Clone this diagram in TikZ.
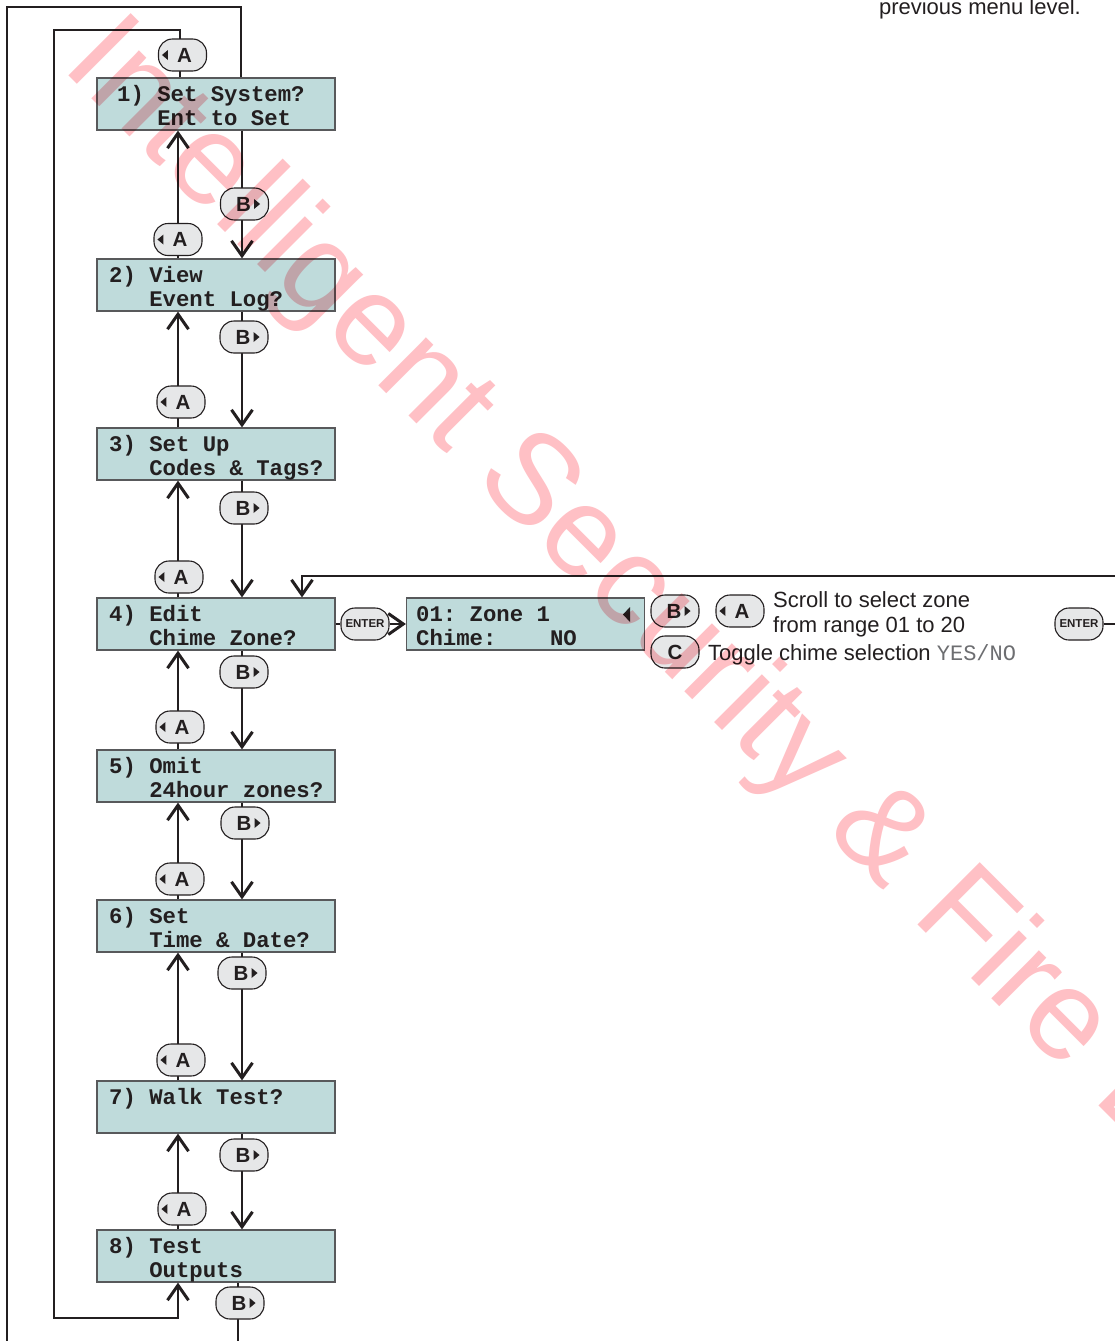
\documentclass[tikz,border=0pt]{standalone}
\usepackage{fontspec}
\setmainfont{Liberation Sans}
\setmonofont{Liberation Mono}
\usetikzlibrary{arrows.meta}
\definecolor{ink}{HTML}{231F20}
\definecolor{lcdfill}{HTML}{BFDBDB}
\definecolor{lcdedge}{HTML}{58595B}
\definecolor{btnfill}{HTML}{E6E7E8}
\definecolor{wmark}{RGB}{255,192,197}
\definecolor{yesno}{HTML}{6D6E71}
\frenchspacing
\begin{document}
\begin{tikzpicture}[x=1pt,y=-1pt,
 lcd/.style={draw=lcdedge, line width=1.2pt, fill=lcdfill, minimum width=238pt, minimum height=52pt, inner sep=0pt},
 lcdtext/.style={font=\fontsize{22.3}{24}\selectfont\ttfamily\bfseries, text=ink, inner sep=0pt, anchor=base west},
 btn/.style={draw=ink, line width=1.1pt, fill=btnfill, rounded corners=14pt, minimum width=48pt, minimum height=32pt, inner sep=0pt, font=\fontsize{20.5}{22}\selectfont\bfseries, text=ink},
 enterbtn/.style={btn, font=\fontsize{11.5}{12}\selectfont\bfseries},
 conn/.style={draw=ink, line width=2pt, line join=miter},
 arr/.style={conn, -{Straight Barb[length=15pt,width=21pt,line width=3pt]}},
 note/.style={font=\fontsize{22}{25}\selectfont, text=ink, inner sep=0pt, anchor=base west},
 wm/.style={font=\fontsize{128}{128}\selectfont, text=wmark, rotate=-45, anchor=base west, inner sep=0pt},
]
\useasboundingbox (0,0) rectangle (1115,1341);
\fill[white] (0,0) rectangle (1115,1341);

% LCD boxes
\node[lcd] (b1) at (216,104) {};
\node[lcd] (b2) at (216,285) {};
\node[lcd] (b3) at (216,454) {};
\node[lcd] (b4) at (216,624) {};
\node[lcd] (b5) at (216,776) {};
\node[lcd] (b6) at (216,926) {};
\node[lcd] (b7) at (216,1107) {};
\node[lcd] (b8) at (216,1256) {};
\node[lcd, minimum width=238pt] (z) at (525.5,624) {};

% LCD texts
\node[lcdtext] (t1a) at (117,101) {1)~Set~System?};
\node[lcdtext] (t1b) at (157.1,125.5) {Ent~to~Set};
\node[lcdtext] (t2a) at (109,282) {2)~View};
\node[lcdtext] (t2b) at (149.1,306.5) {Event~Log?};
\node[lcdtext] (t3a) at (109,451) {3)~Set~Up};
\node[lcdtext] (t3b) at (149.1,475.5) {Codes~\&~Tags?};
\node[lcdtext] (t4a) at (109,621) {4)~Edit};
\node[lcdtext] (t4b) at (149.1,645.5) {Chime~Zone?};
\node[lcdtext] (t5a) at (109,773) {5)~Omit};
\node[lcdtext] (t5b) at (149.1,797.5) {24hour~zones?};
\node[lcdtext] (t6a) at (109,923) {6)~Set};
\node[lcdtext] (t6b) at (149.1,947.5) {Time~\&~Date?};
\node[lcdtext] (t7a) at (109,1104) {7)~Walk~Test?};
\node[lcdtext] (t8a) at (109,1253) {8)~Test};
\node[lcdtext] (t8b) at (149.1,1277.5) {Outputs};
\node[lcdtext] (tza) at (416,621) {01:~Zone~1};
\node[lcdtext] (tzb) at (416,645.5) {Chime:~~~~NO};
\fill[ink] (623,614.5) -- (630,607) -- (630,622) -- cycle;

% helper coordinates
\coordinate (ux) at (178,0);
\coordinate (dx) at (242,0);
\coordinate (itop) at (180,30);
\coordinate (ileft) at (54,30);
\coordinate (ibl) at (54,1318);
\coordinate (ibr) at (178,1318);
\coordinate (otop) at (241,7);
\coordinate (oleft) at (7,7);
\coordinate (obl) at (7,1341);
\coordinate (bexit) at (238,1341);
\coordinate (fbx) at (302,576);
\coordinate (fbr) at (1115,576);
\coordinate (entr) at (1115,624);

% up connectors
\draw[arr] (b2.north -| ux) -- (b1.south -| ux);
\draw[arr] (b3.north -| ux) -- (b2.south -| ux);
\draw[arr] (b4.north -| ux) -- (b3.south -| ux);
\draw[arr] (b5.north -| ux) -- (b4.south -| ux);
\draw[arr] (b6.north -| ux) -- (b5.south -| ux);
\draw[arr] (b7.north -| ux) -- (b6.south -| ux);
\draw[arr] (b8.north -| ux) -- (b7.south -| ux);
% down connectors
\draw[arr] (b1.south -| dx) -- (b2.north -| dx);
\draw[arr] (b2.south -| dx) -- (b3.north -| dx);
\draw[arr] (b3.south -| dx) -- (b4.north -| dx);
\draw[arr] (b4.south -| dx) -- (b5.north -| dx);
\draw[arr] (b5.south -| dx) -- (b6.north -| dx);
\draw[arr] (b6.south -| dx) -- (b7.north -| dx);
\draw[arr] (b7.south -| dx) -- (b8.north -| dx);
\draw[conn] (b8.south -| bexit) -- (bexit);
% loops
\draw[arr] (b1.north -| itop) -- (itop) -- (ileft) -- (ibl) -- (ibr) -- (b8.south -| ibr);
\draw[conn] (b1.north -| otop) -- (otop) -- (oleft) -- (obl);
% feedback to 4
\draw[arr] (fbr) -- (fbx) -- (b4.north -| fbx);

% buttons A
\node[btn] (a1) at (182.5,55) {\hspace*{4pt}A};
\node[btn] (a2) at (178,239.5) {\hspace*{4pt}A};
\node[btn] (a3) at (181,402) {\hspace*{4pt}A};
\node[btn] (a4) at (179,577) {\hspace*{4pt}A};
\node[btn] (a5) at (180,727) {\hspace*{4pt}A};
\node[btn] (a6) at (180,879) {\hspace*{4pt}A};
\node[btn] (a7) at (181,1060) {\hspace*{4pt}A};
\node[btn] (a8) at (182,1209) {\hspace*{4pt}A};
\node[btn] (ra) at (740,611) {\hspace*{4pt}A};
\foreach \n in {a1,a2,a3,a4,a5,a6,a7,a8,ra}
  \fill[ink] ([xshift=4pt]\n.west) -- ++(6,-5) -- ++(0,10) -- cycle;
% buttons B
\node[btn] (bb1) at (244.5,204) {B\hspace*{2pt}};
\node[btn] (bb2) at (244,337) {B\hspace*{2pt}};
\node[btn] (bb3) at (244,508) {B\hspace*{2pt}};
\node[btn] (bb4) at (244,672) {B\hspace*{2pt}};
\node[btn] (bb5) at (245,823) {B\hspace*{2pt}};
\node[btn] (bb6) at (242,973) {B\hspace*{2pt}};
\node[btn] (bb7) at (244,1155) {B\hspace*{2pt}};
\node[btn] (bb8) at (240,1303) {B\hspace*{2pt}};
\node[btn] (rb) at (675,611) {B\hspace*{2pt}};
\foreach \n in {bb1,bb2,bb3,bb4,bb5,bb6,bb7,bb8,rb}
  \fill[ink] ([xshift=-9pt]\n.east) -- ++(-6,-5) -- ++(0,10) -- cycle;
\node[btn] (rc) at (675,652) {C};

% ENTER buttons
\node[enterbtn] (e1) at (365,624) {ENTER};
\draw[conn] (b4.east) -- (e1.west);
\draw[arr] (e1.east) -- (z.west);
\node[enterbtn] (e2) at (1079,624) {ENTER};
\draw[conn] (e2.east) -- (entr);

% notes
\node[note] (n1) at (773,607.5) {Scroll to select zone};
\node[note] (n2) at (773,632.5) {from range 01 to 20};
\node[note] (n3) at (708,660) {Toggle chime selection {\ttfamily\color{yesno}YES/NO}};
\node[note, anchor=base east] (n4) at (1081,14) {previous menu level.};

% watermark
\begin{scope}[blend mode=multiply]
\clip (0,0) rectangle (1115,1341);
\node[wm] (wmk) at (60,67) {Intelligent Security \& Fire Ltd};
\end{scope}
\end{tikzpicture}
\end{document}
